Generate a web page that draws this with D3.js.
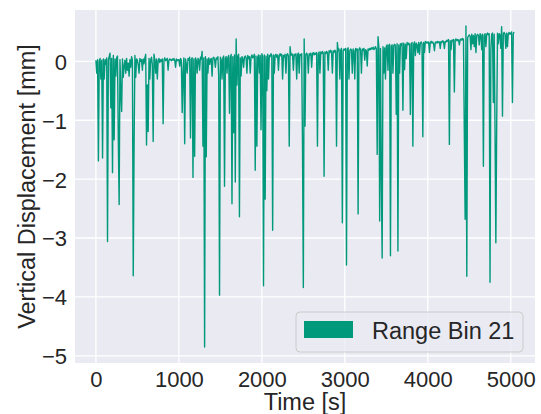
<!DOCTYPE html>
<html>
<head>
<meta charset="utf-8">
<script src="https://cdn.jsdelivr.net/npm/d3@7"></script>
<style>
  body { margin: 0; background: #fff; }
  svg text { font-family: "Liberation Sans", Arial, sans-serif; fill: #262626; }
</style>
</head>
<body>
<div id="chart"></div>
<script>
// sampling: one value every 10 s starting at t = 0
var sampleStart = 0,
    sampleStep = 10;

// vertical displacement [mm], range bin 21
var displacement = [
  0.02,-0.20,0.03,-1.69,0.00,0.05,-0.30,0.02,-1.64,0.04,
  -0.30,0.03,-0.05,0.06,-3.06,0.02,0.08,0.14,-0.79,0.05,
  -1.89,0.10,-1.33,0.04,-0.25,0.06,0.09,-1.33,-2.43,0.03,
  -0.50,-0.85,0.04,-0.27,-0.08,0.02,-0.20,0.05,-0.15,-0.03,
  -0.25,0.03,-0.10,0.08,0.02,-3.64,-1.44,0.10,-0.27,0.04,
  0.02,-0.06,-0.20,0.05,0.00,0.03,-0.15,0.04,-0.04,0.06,
  0.12,-1.42,-0.40,-1.19,0.05,-0.30,0.03,0.07,-0.05,-1.36,
  0.12,0.02,-0.20,0.04,-0.30,0.01,0.05,-0.02,0.03,0.00,
  0.04,-1.06,0.02,0.06,0.01,0.03,0.05,-0.15,0.02,0.04,
  0.03,0.01,0.04,0.02,0.05,0.02,-0.10,0.04,0.01,0.03,
  0.03,-0.08,0.05,0.02,-0.87,-0.20,0.06,-1.40,0.04,-0.05,
  -0.20,0.05,0.02,0.07,-1.30,0.03,0.06,-1.97,0.04,-1.61,
  0.06,0.02,-0.20,0.05,0.03,-0.15,0.07,0.04,0.17,-1.44,
  0.06,-4.85,0.08,-1.62,0.04,-0.20,0.06,-0.05,0.03,0.05,
  -0.25,0.05,0.07,0.03,-0.10,0.06,0.04,0.08,-0.25,-3.97,
  0.07,0.03,-0.30,0.06,0.09,-2.12,0.05,0.08,-0.20,0.06,
  0.10,-0.88,0.06,0.12,-2.42,0.08,-1.21,0.11,-2.05,0.38,
  -0.40,0.09,0.12,-2.64,0.06,-0.25,0.08,0.05,-0.10,0.07,
  0.09,0.06,-0.20,0.10,0.05,0.08,-0.20,0.07,0.11,0.06,
  0.08,0.12,-1.85,0.09,-1.44,0.07,0.11,-0.20,0.10,-1.16,
  0.13,0.08,-3.81,0.11,-2.34,0.09,-0.50,0.12,-0.30,0.10,
  0.08,0.13,0.09,-2.87,0.11,-0.20,0.10,0.12,0.07,0.11,
  -0.15,0.10,0.13,0.09,0.12,-0.30,0.10,0.08,0.12,-0.20,
  0.11,0.13,0.09,-1.44,0.25,0.10,0.13,0.11,-0.15,0.12,
  0.10,0.13,-0.30,0.11,0.14,-0.20,0.12,0.10,0.13,-1.47,
  -3.84,0.38,-1.10,0.12,0.14,0.10,-0.20,0.13,0.11,0.14,
  -0.10,0.13,0.15,0.11,0.14,0.12,0.15,-1.44,0.13,0.16,
  -0.20,0.16,0.13,0.17,0.14,-1.95,0.16,0.13,0.17,0.15,
  -0.15,0.18,0.15,0.19,0.16,-0.20,0.18,0.15,0.19,0.17,
  -1.44,0.32,0.18,0.21,-0.30,0.19,0.22,-2.74,0.18,0.21,
  0.19,0.22,-3.46,0.20,0.23,-0.30,0.18,0.21,0.19,-0.20,
  0.21,0.18,-0.30,0.22,0.19,0.21,-2.59,0.20,0.23,0.19,
  -0.20,0.21,0.19,0.22,0.02,0.20,0.18,-0.08,0.21,0.19,
  0.22,0.20,0.23,0.21,0.24,0.20,0.22,0.25,0.21,-1.58,
  0.42,0.24,-2.71,0.22,-2.03,-3.34,0.25,-0.20,0.23,-0.30,
  0.26,0.28,-0.15,0.27,0.29,-3.30,0.26,0.28,-0.20,0.27,
  0.29,0.27,-0.90,0.30,-3.22,0.28,-0.20,0.30,0.27,0.31,
  -0.83,0.31,-0.14,0.29,0.05,0.32,0.28,0.31,0.29,-0.90,
  0.30,0.32,-1.44,0.29,0.33,0.10,0.31,0.28,0.15,0.32,
  0.12,0.31,0.33,0.30,-1.28,0.32,0.15,0.34,0.31,0.33,
  0.31,0.33,0.15,0.32,0.34,0.31,0.33,0.30,0.18,0.32,
  0.33,0.31,0.34,0.32,0.33,0.22,0.34,0.32,0.35,0.33,
  0.22,0.34,0.33,0.36,0.34,0.37,-1.41,0.35,0.20,0.36,
  0.35,0.37,-0.52,0.36,0.38,0.35,0.37,0.36,0.28,0.37,
  0.38,0.36,0.39,0.37,-1.20,-2.68,0.60,-3.65,0.40,0.43,
  0.45,0.43,0.20,0.46,0.30,0.44,0.25,0.47,0.15,0.44,
  0.46,0.44,0.28,0.47,0.45,0.20,0.46,-1.78,0.44,0.47,
  0.25,0.46,0.48,0.45,0.47,-3.75,0.20,0.46,0.48,-0.70,
  0.46,-1.10,-3.08,-1.16,0.48,0.30,0.47,0.45,0.22,0.59,
  -0.93,0.47,0.49,0.46,0.22,0.48,0.25,0.47,0.49,0.46,
  0.48,0.50,-0.70,0.47,0.50
];

var xTicks = [0, 1000, 2000, 3000, 4000, 5000],
    yTicks = [-5, -4, -3, -2, -1, 0],
    seriesName = 'Range Bin 21',
    xTitle = 'Time [s]',
    yTitle = 'Vertical Displacement [mm]';

var width = 541,
    height = 414,
    margin = {top: 10, right: 6, bottom: 51, left: 75},
    plotW = width - margin.left - margin.right,
    plotH = height - margin.top - margin.bottom,
    lineColor = '#01997c',
    bg = '#eaeaf2',
    tickSize = 22,
    labelSize = 23.5;

var points = displacement.map(function (v, i) {
  return {t: sampleStart + i * sampleStep, v: v};
});

// matplotlib style 5% margins around the data
var tExt = d3.extent(points, function (d) { return d.t; }),
    vExt = d3.extent(points, function (d) { return d.v; }),
    tPad = (tExt[1] - tExt[0]) * 0.05,
    vPad = (vExt[1] - vExt[0]) * 0.05;

var x = d3.scaleLinear()
    .domain([tExt[0] - tPad, tExt[1] + tPad])
    .range([0, plotW]);
var y = d3.scaleLinear()
    .domain([vExt[0] - vPad, vExt[1] + vPad])
    .range([plotH, 0]);

var svg = d3.select('#chart').append('svg')
    .attr('width', width)
    .attr('height', height);

var g = svg.append('g')
    .attr('transform', 'translate(' + margin.left + ',' + margin.top + ')');

g.append('rect')
    .attr('width', plotW)
    .attr('height', plotH)
    .attr('fill', bg);

// grid
g.append('g').selectAll('line').data(xTicks).enter().append('line')
    .attr('x1', function (d) { return x(d); })
    .attr('x2', function (d) { return x(d); })
    .attr('y1', 0).attr('y2', plotH)
    .attr('stroke', '#fff').attr('stroke-width', 1.3);
g.append('g').selectAll('line').data(yTicks).enter().append('line')
    .attr('y1', function (d) { return y(d); })
    .attr('y2', function (d) { return y(d); })
    .attr('x1', 0).attr('x2', plotW)
    .attr('stroke', '#fff').attr('stroke-width', 1.3);

// axes (tick marks hidden, seaborn darkgrid look)
var fmt = function (d) { return String(d).replace('-', '\u2212'); };
var xAxis = g.append('g')
    .attr('transform', 'translate(0,' + plotH + ')')
    .call(d3.axisBottom(x).tickValues(xTicks).tickSize(0).tickPadding(24).tickFormat(fmt));
var yAxis = g.append('g')
    .call(d3.axisLeft(y).tickValues(yTicks).tickSize(0).tickPadding(8).tickFormat(fmt));
[xAxis, yAxis].forEach(function (a) {
  a.select('.domain').remove();
  a.selectAll('text').attr('font-size', tickSize).attr('fill', '#262626')
      .style('font-family', '"Liberation Sans", Arial, sans-serif');
});
yAxis.selectAll('text').attr('dy', '0.36em');
xAxis.selectAll('text').attr('dy', 0);

// the series
var line = d3.line()
    .x(function (d) { return x(d.t); })
    .y(function (d) { return y(d.v); });

g.append('path')
    .datum(points)
    .attr('d', line)
    .attr('fill', 'none')
    .attr('stroke', lineColor)
    .attr('stroke-width', 1.4)
    .attr('stroke-linejoin', 'round');

// axis titles
svg.append('text')
    .attr('x', margin.left + plotW / 2)
    .attr('y', 410)
    .attr('text-anchor', 'middle')
    .attr('font-size', labelSize)
    .text(xTitle);
svg.append('text')
    .attr('transform', 'translate(35,' + (margin.top + plotH / 2) + ') rotate(-90)')
    .attr('text-anchor', 'middle')
    .attr('font-size', labelSize)
    .text(yTitle);

// legend
var legend = svg.append('g').attr('transform', 'translate(296,312)');
legend.append('rect')
    .attr('width', 227).attr('height', 40)
    .attr('rx', 4)
    .attr('fill', bg).attr('fill-opacity', 0.8)
    .attr('stroke', '#cccccc').attr('stroke-width', 1);
legend.append('rect')
    .attr('x', 8).attr('y', 9)
    .attr('width', 49).attr('height', 17)
    .attr('fill', lineColor);
legend.append('text')
    .attr('x', 76).attr('y', 26.5)
    .attr('font-size', 23.5)
    .text(seriesName);
</script>
</body>
</html>
